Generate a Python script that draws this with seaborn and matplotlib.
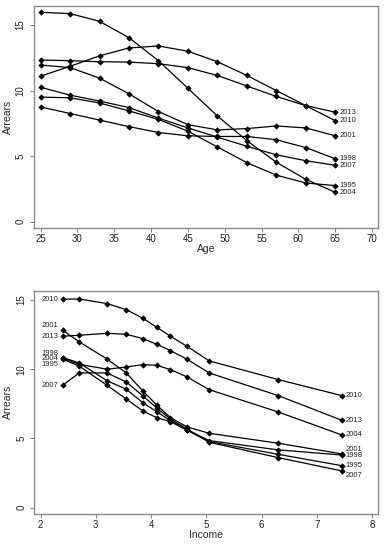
import pandas as pd
import seaborn as sns
import matplotlib
matplotlib.use('Agg')
import matplotlib.pyplot as plt

# values
years = ['1995', '1998', '2001', '2004', '2007', '2010', '2013']

age = [25, 29, 33, 37, 41, 45, 49, 53, 57, 61, 65]
age_1995 = [9.5, 9.45, 9.05, 8.45, 7.8, 6.9, 5.7, 4.5, 3.55, 2.95, 2.75]
age_1998 = [8.75, 8.25, 7.75, 7.25, 6.8, 6.55, 6.5, 6.5, 6.25, 5.65, 4.8]
age_2001 = [11.95, 11.75, 10.95, 9.75, 8.4, 7.4, 7.0, 7.1, 7.3, 7.15, 6.55]
age_2004 = [15.97, 15.87, 15.28, 14.03, 12.28, 10.17, 8.06, 6.18, 4.53, 3.23, 2.24]
age_2007 = [10.25, 9.65, 9.2, 8.7, 7.9, 7.15, 6.45, 5.75, 5.1, 4.65, 4.3]
age_2010 = [11.1, 11.85, 12.65, 13.25, 13.4, 13.0, 12.2, 11.15, 10.0, 8.85, 7.7]
age_2013 = [12.33, 12.28, 12.2, 12.17, 12.05, 11.75, 11.15, 10.35, 9.55, 8.85, 8.35]

income = [2.4, 2.7, 3.2, 3.55, 3.85, 4.1, 4.35, 4.65, 5.05, 6.3, 7.45]
inc_1995 = [10.72, 10.22, 8.84, 7.85, 6.98, 6.5, 6.21, 5.59, 4.77, 3.85, 3.03]
inc_1998 = [10.84, 10.45, 9.17, 8.55, 7.58, 6.93, 6.28, 5.61, 4.84, 4.17, 3.8]
inc_2001 = [12.81, 11.97, 10.74, 9.73, 8.43, 7.42, 6.5, 5.83, 5.37, 4.65, 3.88]
inc_2004 = [10.78, 10.35, 10.0, 10.15, 10.33, 10.28, 9.97, 9.44, 8.52, 6.91, 5.25]
inc_2007 = [8.84, 9.73, 9.73, 9.08, 8.07, 7.2, 6.4, 5.68, 4.72, 3.61, 2.65]
inc_2010 = [15.05, 15.07, 14.74, 14.3, 13.68, 13.03, 12.38, 11.65, 10.6, 9.25, 8.09]
inc_2013 = [12.38, 12.45, 12.59, 12.52, 12.21, 11.8, 11.34, 10.72, 9.73, 8.09, 6.31]

age_series = [age_1995, age_1998, age_2001, age_2004, age_2007, age_2010, age_2013]
inc_series = [inc_1995, inc_1998, inc_2001, inc_2004, inc_2007, inc_2010, inc_2013]

# label nudges (points) where the original moved overlapping labels
right_nudge_inc = {'2001': 3.4, '2007': -3.6}
left_nudge_inc = {'2001': 3.2, '1998': 2.8, '1995': -3.6}

sns.set_style('ticks')
plt.rcParams['font.family'] = ['Liberation Sans', 'DejaVu Sans']

def long_table(xs, series, xname):
    rows = []
    for yr, vals in zip(years, series):
        for x, v in zip(xs, vals):
            rows.append({xname: x, 'Arrears': v, 'year': yr})
    return pd.DataFrame(rows)

def style_axes(ax):
    for sp in ax.spines.values():
        sp.set_color('#8a8a8a')
        sp.set_linewidth(1.0)
    ax.tick_params(direction='out', length=3, width=0.8, color='#8a8a8a',
                   labelsize=7, labelcolor='#222222')
    ax.tick_params(axis='y', pad=3)
    ax.tick_params(axis='x', pad=1.5)
    for lab in ax.get_yticklabels():
        lab.set_rotation(90)
        lab.set_va('center')
    ax.set_yticks([0, 5, 10, 15])

fig = plt.figure(figsize=(3.88, 5.5), dpi=100)
ax1 = fig.add_axes([0.0876, 0.5855, 0.8866, 0.4036])
ax2 = fig.add_axes([0.0889, 0.0655, 0.8845, 0.406])

pal = {y: 'black' for y in years}
mk = dict(marker='D', markersize=2.8, markeredgewidth=0.4, markeredgecolor='black',
          linewidth=0.9)

df1 = long_table(age, age_series, 'Age')
sns.lineplot(data=df1, x='Age', y='Arrears', hue='year', palette=pal, legend=False,
             ax=ax1, **mk)
ax1.set_xlim(24.1, 70.8)
ax1.set_ylim(-0.48, 16.45)
ax1.set_xticks([25, 30, 35, 40, 45, 50, 55, 60, 65, 70])
style_axes(ax1)
ax1.set_xlabel('Age', fontsize=7.5, labelpad=0)
ax1.set_ylabel('Arrears', fontsize=7.5, labelpad=2)
for yr, vals in zip(years, age_series):
    ax1.annotate(yr, (age[-1], vals[-1]), xytext=(3, 0), textcoords='offset points',
                 fontsize=5.5, va='center', ha='left', color='#222222')

df2 = long_table(income, inc_series, 'Income')
sns.lineplot(data=df2, x='Income', y='Arrears', hue='year', palette=pal, legend=False,
             ax=ax2, **mk)
ax2.set_xlim(1.89, 8.1)
ax2.set_ylim(-0.46, 15.67)
ax2.set_xticks([2, 3, 4, 5, 6, 7, 8])
style_axes(ax2)
ax2.set_xlabel('Income', fontsize=7.5, labelpad=0)
ax2.set_ylabel('Arrears', fontsize=7.5, labelpad=2)
for yr, vals in zip(years, inc_series):
    ax2.annotate(yr, (income[-1], vals[-1]), xytext=(2.5, right_nudge_inc.get(yr, 0)),
                 textcoords='offset points', fontsize=5.5, va='center', ha='left',
                 color='#222222')
    ax2.annotate(yr, (income[0], vals[0]), xytext=(-3, left_nudge_inc.get(yr, 0)),
                 textcoords='offset points', fontsize=5.5, va='center', ha='right',
                 color='#222222')

fig.savefig('out.png', dpi=100)
